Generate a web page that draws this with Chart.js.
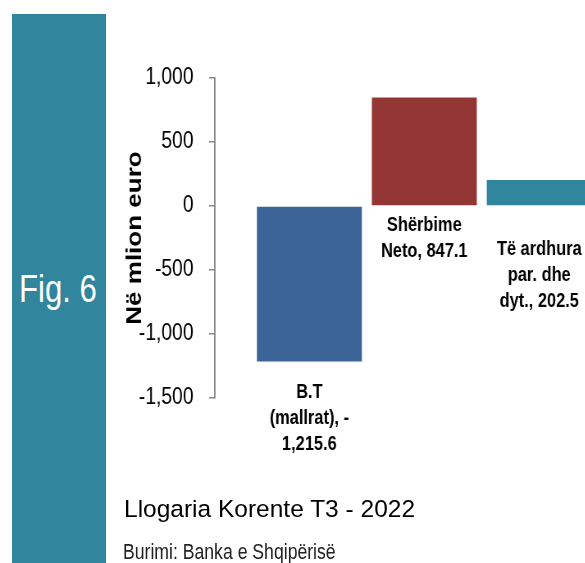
<!DOCTYPE html>
<html lang="sq">
<head>
<meta charset="utf-8">
<title>Fig. 6 - Llogaria Korente T3 - 2022</title>
<script src="https://cdn.jsdelivr.net/npm/chart.js@4.4.0/dist/chart.umd.min.js"></script>
<style>
    html, body { margin: 0; padding: 0; background: #fff; }
    body { width: 585px; height: 563px; position: relative; overflow: hidden; }
    #band { position: absolute; left: 12px; top: 14px; width: 94px; height: 549px; background: #31859C; }
    .txt { position: absolute; white-space: nowrap; transform-origin: 0 0; }
    .narrow { transform: scaleX(0.82); }
    #fig { left: 19px; top: 270px; font: 38px/1 "Liberation Sans", sans-serif; color: #fff; }
    #title { left: 124px; top: 497px; font: 24.5px/1 "Liberation Sans", sans-serif; color: #000; }
    #source { left: 123px; top: 542px; font: 21.5px/1 "Liberation Sans", sans-serif; color: #222; }
    /* the original picture is squeezed horizontally, so the canvas is too */
    #chart { position: absolute; left: 0; top: 0; transform-origin: 0 0; transform: scaleX(0.82); }
</style>
</head>
<body>
<div id="band"></div>
<div id="fig" class="txt narrow">Fig. 6</div>
<canvas id="chart" width="713" height="563"></canvas>
<div id="title" class="txt">Llogaria Korente T3 - 2022</div>
<div id="source" class="txt narrow">Burimi: Banka e Shqipërisë</div>

<script>
// --- Data ---
const categories = ['B.T (mallrat)', 'Shërbime Neto', 'Të ardhura par. dhe dyt.'];
const values = [-1215.6, 847.1, 202.5];
const yTicks = [-1500, -1000, -500, 0, 500, 1000];

// --- Helpers ---
function formatValue(v) {
    return v.toLocaleString('en-US', { minimumFractionDigits: 1, maximumFractionDigits: 1 });
}

// Excel-like wrapping: break at spaces, or after a leading minus sign
function wrapLabel(ctx, text, maxWidth) {
    const pieces = [];
    text.split(' ').forEach((word, i) => {
        const sep = i === 0 ? '' : ' ';
        if (/^-\d/.test(word)) {
            pieces.push({ t: '-', sep: sep });
            pieces.push({ t: word.slice(1), sep: '' });
        } else {
            pieces.push({ t: word, sep: sep });
        }
    });
    const lines = [];
    let line = pieces[0].t;
    for (let i = 1; i < pieces.length; i++) {
        const candidate = line + pieces[i].sep + pieces[i].t;
        if (ctx.measureText(candidate).width <= maxWidth) {
            line = candidate;
        } else {
            lines.push(line);
            line = pieces[i].t;
        }
    }
    lines.push(line);
    return lines;
}

// --- Data labels under each bar ---
const barLabels = {
    id: 'barLabels',
    afterDatasetsDraw(chart, args, opts) {
        const ctx = chart.ctx;
        const meta = chart.getDatasetMeta(0);
        ctx.save();
        ctx.font = opts.font;
        ctx.fillStyle = opts.color;
        ctx.textAlign = 'center';
        ctx.textBaseline = 'alphabetic';
        meta.data.forEach((bar, i) => {
            const text = categories[i] + ', ' + formatValue(values[i]);
            const lines = wrapLabel(ctx, text, opts.maxWidth);
            const bottom = Math.max(bar.y, bar.base);
            lines.forEach((l, k) => {
                ctx.fillText(l, bar.x, bottom + opts.offsets[i] + k * opts.lineHeight);
            });
        });
        ctx.restore();
    }
};

function drawChart() {
    const ctx = document.getElementById('chart').getContext('2d');

    new Chart(ctx, {
        type: 'bar',
        data: {
            datasets: [{
                data: values.map((v, i) => ({ x: i, y: v })),
                backgroundColor: ['#3C6496', '#943634', '#31859C'],
                borderWidth: 0,
                categoryPercentage: 1,
                barPercentage: 0.913
            }]
        },
        options: {
            responsive: false,
            animation: false,
            devicePixelRatio: 1,
            layout: {
                padding: { left: 144, top: 78, right: 0, bottom: 165 }
            },
            plugins: {
                legend: { display: false },
                tooltip: { enabled: false },
                barLabels: {
                    font: 'bold 20px "Liberation Sans"',
                    color: '#000',
                    maxWidth: 112,
                    lineHeight: 26,
                    offsets: [36, 26, 50]
                }
            },
            scales: {
                x: {
                    type: 'linear',
                    display: false,
                    offset: false,
                    min: -0.822,
                    max: 2.395,
                    // one tick per bar so bar width follows the bar spacing
                    afterBuildTicks: (scale) => {
                        scale.ticks = values.map((v, i) => ({ value: i }));
                    }
                },
                y: {
                    min: yTicks[0],
                    max: yTicks[yTicks.length - 1],
                    afterBuildTicks: (scale) => {
                        scale.ticks = yTicks.map(v => ({ value: v }));
                    },
                    afterFit: (scale) => {
                        scale.width = 118;
                    },
                    border: { display: true, color: '#868686', width: 1.8 },
                    grid: {
                        drawOnChartArea: false,
                        drawTicks: true,
                        tickLength: 7,
                        color: '#868686',
                        lineWidth: 1.5
                    },
                    ticks: {
                        color: '#000',
                        padding: 19,
                        font: { family: 'Liberation Sans', size: 23.5 },
                        callback: (v) => v.toLocaleString('en-US')
                    },
                    title: {
                        display: true,
                        text: 'Në mlion euro',
                        color: '#000',
                        font: { family: 'Liberation Sans', size: 26, weight: 'bold' },
                        padding: { top: 5, bottom: 0 }
                    }
                }
            }
        },
        plugins: [barLabels]
    });
}

// make sure the local fonts are ready before the canvas draws text
Promise.all([
    document.fonts.load('23.5px "Liberation Sans"'),
    document.fonts.load('bold 20px "Liberation Sans"')
]).then(drawChart, drawChart);
</script>
</body>
</html>
